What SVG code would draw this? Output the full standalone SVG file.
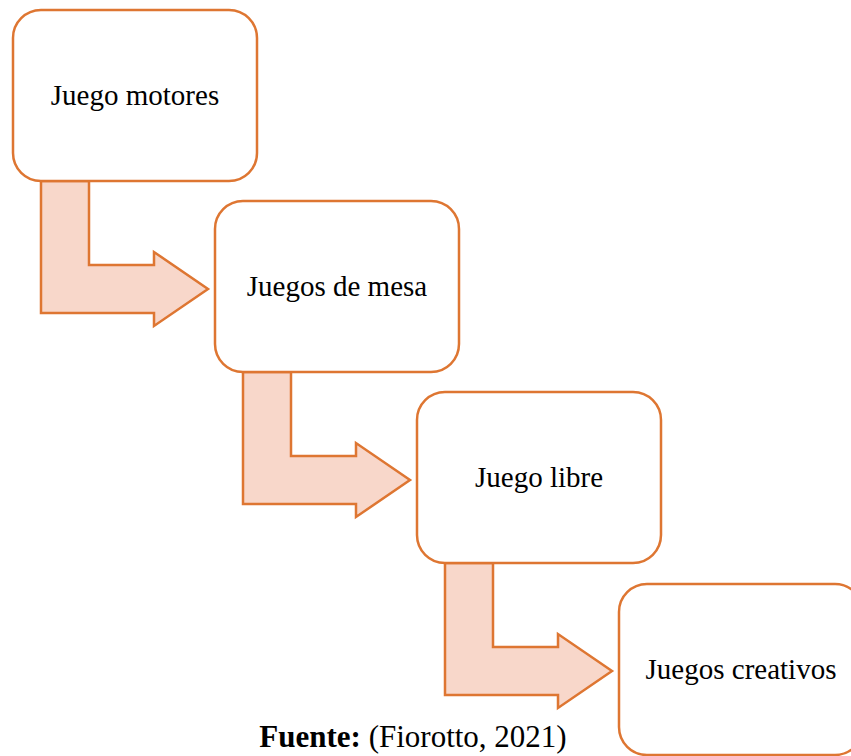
<svg xmlns="http://www.w3.org/2000/svg" width="851" height="756" viewBox="0 0 851 756">
<style>
.box{fill:#FFFFFF;stroke:#DE7632;stroke-width:2.5}
.arr{fill:#F8D7CA;stroke:#DE7632;stroke-width:2.5;stroke-linejoin:miter}
.lbl{font-family:"Liberation Serif","Times New Roman",serif;font-size:29px;fill:#000;text-anchor:middle}
.foot{font-family:"Liberation Serif","Times New Roman",serif;font-size:31px;fill:#000;text-anchor:middle}
</style>
<rect width="851" height="756" fill="#FFFFFF"/>
<g id="connectors">
<path class="arr" d="M41,181 L41,313 L154,313 L154,326 L208,289 L154,252 L154,265 L89,265 L89,181 Z"/>
<path class="arr" transform="translate(202,191)" d="M41,181 L41,313 L154,313 L154,326 L208,289 L154,252 L154,265 L89,265 L89,181 Z"/>
<path class="arr" transform="translate(404,382)" d="M41,181 L41,313 L154,313 L154,326 L208,289 L154,252 L154,265 L89,265 L89,181 Z"/>
</g>
<g id="node1">
<rect class="box" x="13" y="10" width="244" height="171" rx="28" ry="28"/>
<text class="lbl" x="135" y="105">Juego motores</text>
</g>
<g id="node2">
<rect class="box" x="215" y="201" width="244" height="171" rx="28" ry="28"/>
<text class="lbl" x="337" y="296">Juegos de mesa</text>
</g>
<g id="node3">
<rect class="box" x="417" y="392" width="244" height="171" rx="28" ry="28"/>
<text class="lbl" x="539" y="487">Juego libre</text>
</g>
<g id="node4">
<rect class="box" x="619" y="584" width="244" height="171" rx="28" ry="28"/>
<text class="lbl" x="741" y="679">Juegos creativos</text>
</g>
<text class="foot" x="413" y="747"><tspan font-weight="bold">Fuente:</tspan> (Fiorotto, 2021)</text>
</svg>
